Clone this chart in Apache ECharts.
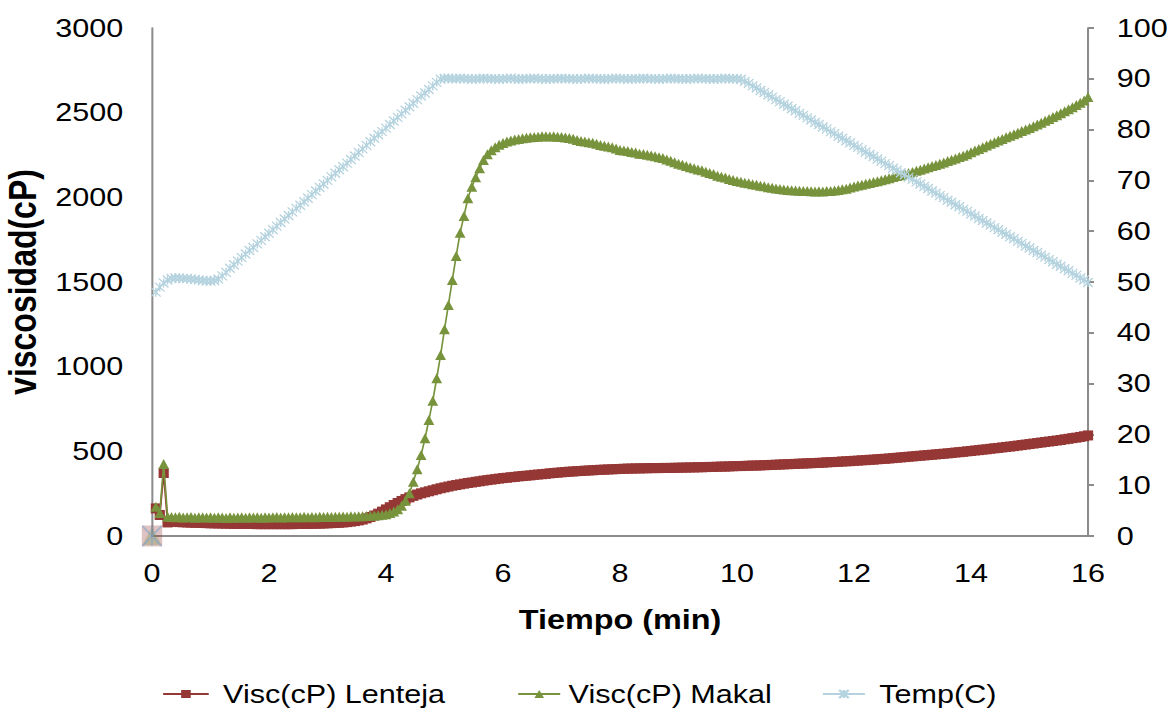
<!DOCTYPE html>
<html>
<head>
<meta charset="utf-8">
<script src="https://cdn.jsdelivr.net/npm/echarts@6/dist/echarts.min.js"></script>
<style>
html,body{margin:0;padding:0;background:#fff;overflow:hidden;}
/* the original picture is a chart stretched horizontally by ~1.2 */
#chart{width:977px;height:710px;transform:scaleX(1.19959);transform-origin:0 0;}
</style>
</head>
<body>
<div id="chart"></div>
<script>
// Tiempo en segundos (lectura cada 4 s)
const tiempoSeg = [
0,4,8,12,16,20,24,28,32,36,40,44,48,52,56,
60,64,68,72,76,80,84,88,92,96,100,104,108,112,116,
120,124,128,132,136,140,144,148,152,156,160,164,168,172,176,
180,184,188,192,196,200,204,208,212,216,220,224,228,232,236,
240,244,248,252,256,260,264,268,272,276,280,284,288,292,296,
300,304,308,312,316,320,324,328,332,336,340,344,348,352,356,
360,364,368,372,376,380,384,388,392,396,400,404,408,412,416,
420,424,428,432,436,440,444,448,452,456,460,464,468,472,476,
480,484,488,492,496,500,504,508,512,516,520,524,528,532,536,
540,544,548,552,556,560,564,568,572,576,580,584,588,592,596,
600,604,608,612,616,620,624,628,632,636,640,644,648,652,656,
660,664,668,672,676,680,684,688,692,696,700,704,708,712,716,
720,724,728,732,736,740,744,748,752,756,760,764,768,772,776,
780,784,788,792,796,800,804,808,812,816,820,824,828,832,836,
840,844,848,852,856,860,864,868,872,876,880,884,888,892,896,
900,904,908,912,916,920,924,928,932,936,940,944,948,952,956,
960];

const viscLenteja = [
0,163,124,372,80,84,83,82,81,80,79,78,78,77,76,
75,75,74,74,73,73,72,72,72,71,71,71,70,70,70,
70,70,70,70,70,70,70,71,71,71,72,72,73,73,74,
75,76,77,78,80,82,85,88,92,97,104,112,121,132,144,
157,170,183,195,207,218,228,237,245,252,258,264,270,276,282,
287,292,297,301,305,309,313,316,320,323,327,330,333,336,339,
342,344,347,349,352,354,356,358,361,363,365,367,370,372,374,
376,378,380,381,383,384,386,387,388,390,391,392,393,394,395,
396,397,398,398,399,399,400,400,401,401,401,402,402,402,403,
403,404,404,405,405,406,406,407,408,408,409,410,410,411,412,
413,413,414,415,416,416,417,418,419,420,421,422,423,424,425,
426,427,428,429,430,431,432,433,435,436,437,438,440,441,442,
444,445,447,448,450,451,453,455,456,458,460,462,464,466,468,
470,472,474,476,478,480,482,484,486,488,490,493,495,497,500,
502,505,507,510,512,515,518,520,523,526,528,531,534,537,540,
543,546,549,552,555,558,561,564,567,571,574,578,581,585,589,
594];

const viscMakal = [
0,173,136,425,114,112,110,113,109,111,112,108,111,110,109,
111,108,110,109,107,110,108,109,111,108,110,109,110,108,111,
109,110,112,109,111,110,112,110,111,113,110,112,111,113,112,
113,112,114,113,115,114,116,115,117,116,118,119,121,123,125,
128,136,145,158,178,208,252,321,394,478,577,685,799,931,1069,
1221,1364,1512,1654,1791,1890,1994,2063,2118,2172,2221,2255,2278,2296,2310,
2321,2330,2336,2341,2345,2349,2352,2355,2357,2358,2360,2360,2359,2360,2358,
2356,2353,2350,2346,2339,2333,2330,2326,2322,2316,2309,2305,2300,2296,2288,
2280,2277,2273,2268,2265,2258,2256,2251,2247,2243,2236,2232,2224,2216,2207,
2198,2193,2185,2178,2172,2165,2160,2151,2143,2138,2127,2122,2117,2108,2103,
2097,2092,2086,2083,2077,2075,2069,2065,2060,2056,2052,2049,2046,2044,2042,
2040,2039,2038,2037,2036,2035,2036,2035,2037,2038,2040,2043,2047,2051,2058,
2064,2070,2075,2080,2085,2090,2095,2101,2107,2113,2120,2126,2131,2138,2144,
2150,2157,2163,2170,2177,2185,2191,2198,2206,2214,2222,2230,2238,2246,2255,
2266,2276,2286,2296,2306,2316,2326,2336,2345,2355,2364,2373,2382,2391,2400,
2410,2420,2430,2441,2452,2463,2474,2485,2496,2508,2520,2532,2545,2558,2572,
2592];

const tempC = [
0,48.0,49.0,49.8,50.4,50.7,50.8,50.8,50.7,50.7,50.6,50.5,50.4,50.3,50.2,
50.2,50.3,50.6,51.2,51.9,52.7,53.4,54.1,54.8,55.5,56.2,56.8,57.5,58.2,58.9,
59.6,60.3,61.0,61.7,62.4,63.1,63.8,64.5,65.1,65.8,66.5,67.2,67.9,68.6,69.3,
70.0,70.7,71.4,72.1,72.7,73.4,74.1,74.8,75.5,76.2,76.9,77.6,78.3,79.0,79.6,
80.3,81.0,81.7,82.4,83.1,83.8,84.5,85.2,85.9,86.6,87.2,87.9,88.6,89.3,89.9,
90.1,90.1,90.0,90.0,90.1,90.0,90.0,89.9,90.0,90.0,90.1,90.0,90.0,90.0,89.9,
90.0,90.0,90.1,90.0,89.9,90.0,90.0,90.0,90.1,90.0,90.0,89.9,90.0,90.0,90.0,
90.1,90.0,90.0,90.0,89.9,90.0,90.0,90.1,90.0,90.0,90.0,89.9,90.0,90.0,90.1,
90.0,90.0,89.9,90.0,90.0,90.0,90.1,90.0,90.0,90.0,89.9,90.0,90.0,90.1,90.0,
90.0,90.0,89.9,90.0,90.0,90.1,90.0,90.0,90.0,89.9,90.0,90.0,90.1,90.0,90.0,
90.0,89.9,89.5,89.1,88.6,88.2,87.7,87.3,86.8,86.4,85.9,85.5,85.0,84.6,84.1,
83.7,83.2,82.8,82.3,81.9,81.4,81.0,80.5,80.1,79.6,79.2,78.7,78.3,77.8,77.4,
76.9,76.5,76.0,75.6,75.1,74.7,74.2,73.8,73.3,72.9,72.4,72.0,71.5,71.1,70.6,
70.2,69.7,69.3,68.8,68.4,67.9,67.5,67.0,66.6,66.1,65.7,65.2,64.8,64.3,63.9,
63.4,63.0,62.5,62.1,61.6,61.2,60.7,60.3,59.8,59.4,58.9,58.5,58.0,57.6,57.1,
56.7,56.2,55.8,55.3,54.9,54.4,54.0,53.5,53.1,52.6,52.2,51.7,51.3,50.8,50.4,
49.9];

const xTicks = [0, 16, 2];        // min, max, interval (min)
const yLeftTicks = [0, 3000, 500];
const yRightTicks = [0, 100, 10];

const names = ['Visc(cP) Lenteja', 'Visc(cP) Makal', 'Temp(C)'];
const colors = ['#953735', '#77933C', '#B4D3DF'];
const FONT = "'Liberation Sans', Arial, sans-serif";
const AXC = '#8C8C8C';
const xSym = 'path://M0,0L10,10M10,0L0,10M5,0L5,10';

function pts(vals) {
  const out = [];
  for (let k = 1; k < tiempoSeg.length; k++) out.push([tiempoSeg[k] / 60, vals[k]]);
  return out;
}
function firstPt(vals) { return [[tiempoSeg[0] / 60, vals[0]]]; }

const chart = echarts.init(document.getElementById('chart'), null, {renderer: 'svg'});
const lab = {color: '#000', fontSize: 25.5, fontFamily: FONT, formatter: v => String(v)};
const legText = {color: '#000', fontSize: 25.5, fontFamily: FONT};

chart.setOption({
  animation: false,
  backgroundColor: '#fff',
  grid: {left: 126.7, right: 70, top: 28, bottom: 174, containLabel: false, outerBoundsMode: 'none'},
  xAxis: {
    type: 'value', min: xTicks[0], max: xTicks[1], interval: xTicks[2],
    name: 'Tiempo (min)', nameLocation: 'middle', nameGap: 70,
    nameTextStyle: {color: '#000', fontSize: 27, fontWeight: 'bold', fontFamily: FONT},
    axisLine: {show: true, onZero: false, lineStyle: {color: AXC, width: 2}},
    axisTick: {show: false},
    axisLabel: Object.assign({margin: 24}, lab),
    splitLine: {show: false}
  },
  yAxis: [{
    type: 'value', min: yLeftTicks[0], max: yLeftTicks[1], interval: yLeftTicks[2],
    position: 'left',
    name: 'viscosidad(cP)', nameLocation: 'middle', nameGap: 83,
    nameTextStyle: {color: '#000', fontSize: 32, fontWeight: 'bold', fontFamily: FONT},
    axisLine: {show: true, lineStyle: {color: AXC, width: 1.7}},
    axisTick: {show: false},
    axisLabel: Object.assign({margin: 24}, lab),
    splitLine: {show: false}
  }, {
    type: 'value', min: yRightTicks[0], max: yRightTicks[1], interval: yRightTicks[2],
    position: 'right',
    axisLine: {show: true, lineStyle: {color: AXC, width: 1.7}},
    axisTick: {show: true, inside: false, length: 5, lineStyle: {color: AXC, width: 2}},
    axisLabel: Object.assign({margin: 24}, lab),
    splitLine: {show: false}
  }],
  legend: [
    {data: [names[0]], left: 130, top: 676, itemWidth: 38, itemHeight: 10,
     textStyle: Object.assign({padding: [0, 0, 0, 7]}, legText)},
    {data: [names[1]], left: 426, top: 676, itemWidth: 35, itemHeight: 10,
     textStyle: Object.assign({padding: [0, 0, 0, 2]}, legText)},
    {data: [names[2]], left: 680, top: 676, itemWidth: 35, itemHeight: 10,
     textStyle: Object.assign({padding: [0, 0, 0, 7]}, legText)}
  ],
  series: [
    {
      name: names[0], type: 'line', yAxisIndex: 0, data: pts(viscLenteja),
      symbol: 'rect', symbolSize: [8.5, 10], showAllSymbol: true,
      lineStyle: {color: colors[0], width: 1.5},
      itemStyle: {color: colors[0]}, z: 2
    },
    {
      name: names[1], type: 'line', yAxisIndex: 0, data: pts(viscMakal),
      symbol: 'triangle', symbolSize: [9, 10], showAllSymbol: true,
      lineStyle: {color: colors[1], width: 1.4},
      itemStyle: {color: colors[1]}, z: 3
    },
    {
      name: names[2], type: 'line', yAxisIndex: 1, data: pts(tempC),
      symbol: xSym, symbolSize: [8, 9], showAllSymbol: true,
      lineStyle: {color: colors[2], width: 1.2},
      itemStyle: {color: colors[2], borderColor: colors[2], borderWidth: 1.2}, z: 4
    },
    // first reading (t = 0), drawn faded as in the original
    {
      type: 'scatter', yAxisIndex: 0, data: firstPt(viscLenteja), symbol: 'rect', symbolSize: [17, 21],
      itemStyle: {color: colors[0], opacity: 0.3}, silent: true, z: 5
    },
    {
      type: 'scatter', yAxisIndex: 0, data: firstPt(viscMakal), symbol: 'triangle', symbolSize: [16, 18],
      itemStyle: {color: colors[1], opacity: 0.3}, silent: true, z: 5
    },
    {
      type: 'scatter', yAxisIndex: 1, data: firstPt(tempC), symbol: xSym, symbolSize: [16, 20],
      itemStyle: {color: '#7FA7C9', borderColor: '#7FA7C9', borderWidth: 1.6, opacity: 0.6}, silent: true, z: 6
    }
  ]
});
</script>
</body>
</html>
